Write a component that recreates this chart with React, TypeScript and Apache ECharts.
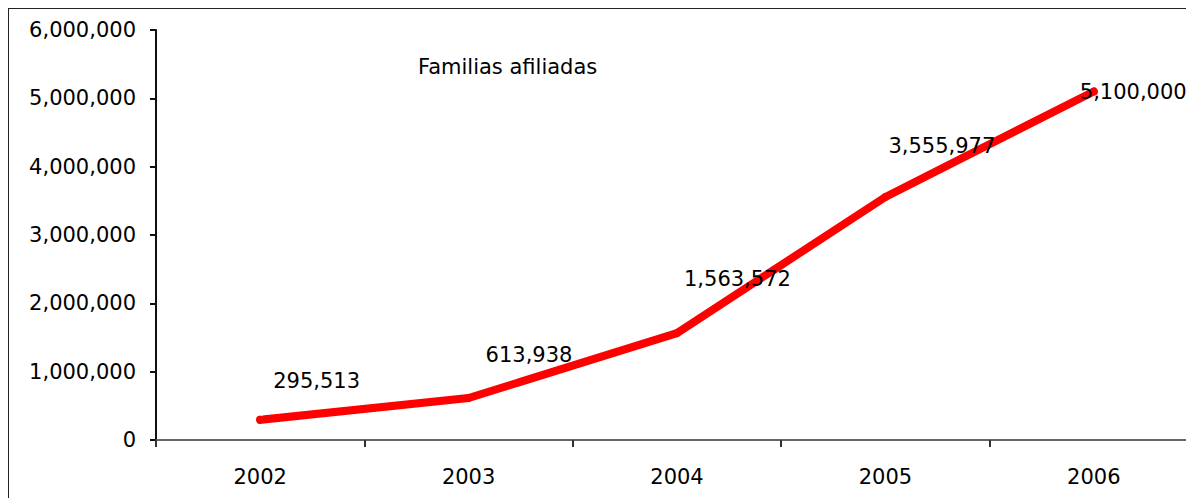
import React, { useEffect, useRef } from "react";
import * as echarts from "echarts";

const years = ["2002", "2003", "2004", "2005", "2006"];
const familias = [295513, 613938, 1563572, 3555977, 5100000];
const seriesName = "Familias afiliadas";
const yMin = 0;
const yMax = 6000000;
const yStep = 1000000;
// label placement offsets (pixels) for each point's value label
const labelOffsets: [number, number][] = [
  [9, -39],
  [13, -43],
  [3, -54],
  [-1, -51],
  [-18, 0],
];

const FONT = "DejaVu Sans";
const fmt = (v: number) => Number(v).toLocaleString("en-US");

export default function App() {
  const ref = useRef<HTMLDivElement>(null);
  useEffect(() => {
    document.body.style.overflow = "hidden";
    if (!ref.current) return;
    const chart = echarts.init(ref.current, undefined, { renderer: "svg" });
    chart.setOption({
      animation: false,
      backgroundColor: "#fff",
      graphic: [
        {
          type: "line",
          shape: { x1: 0, y1: 0.5, x2: 1300, y2: 0.5 },
          style: { stroke: "#222", lineWidth: 1 },
        },
        {
          type: "line",
          shape: { x1: 0.5, y1: 0, x2: 0.5, y2: 600 },
          style: { stroke: "#222", lineWidth: 1 },
        },
        {
          type: "text",
          left: 410,
          top: 48,
          style: {
            text: seriesName,
            fontFamily: FONT,
            fontSize: 21,
            fill: "#000",
          },
        },
      ],
      grid: { left: 148, top: 22, width: 1042, height: 410 },
      xAxis: {
        type: "category",
        data: years,
        boundaryGap: true,
        axisLine: { lineStyle: { color: "#666", width: 2 } },
        axisTick: { show: true, length: 7, alignWithLabel: false, lineStyle: { color: "#333", width: 2 } },
        axisLabel: { margin: 26, fontFamily: FONT, fontSize: 21, color: "#000" },
        splitLine: { show: false },
      },
      yAxis: {
        type: "value",
        min: yMin,
        max: yMax,
        interval: yStep,
        axisLine: { show: true, lineStyle: { color: "#111", width: 2 } },
        axisTick: { show: true, length: 6, lineStyle: { color: "#111", width: 2 } },
        axisLabel: {
          margin: 20,
          fontFamily: FONT,
          fontSize: 21,
          color: "#000",
          formatter: (v: number) => fmt(v),
        },
        splitLine: { show: false },
      },
      series: [
        {
          type: "line",
          name: seriesName,
          data: familias.map((v, i) => ({
            value: v,
            label: { offset: labelOffsets[i] },
          })),
          symbol: "circle",
          symbolSize: 8,
          itemStyle: { color: "#ff0000" },
          lineStyle: { color: "#ff0000", width: 8, cap: "round", join: "round" },
          label: {
            show: true,
            position: "right",
            distance: 0,
            fontFamily: FONT,
            fontSize: 21,
            color: "#000",
            align: "left",
            verticalAlign: "middle",
            formatter: (p: any) => fmt(p.value),
          },
        },
      ],
    });
    return () => chart.dispose();
  }, []);
  return (
    <div
      ref={ref}
      style={{ position: "fixed", left: 8, top: 8, width: 1240, height: 500 }}
    />
  );
}
